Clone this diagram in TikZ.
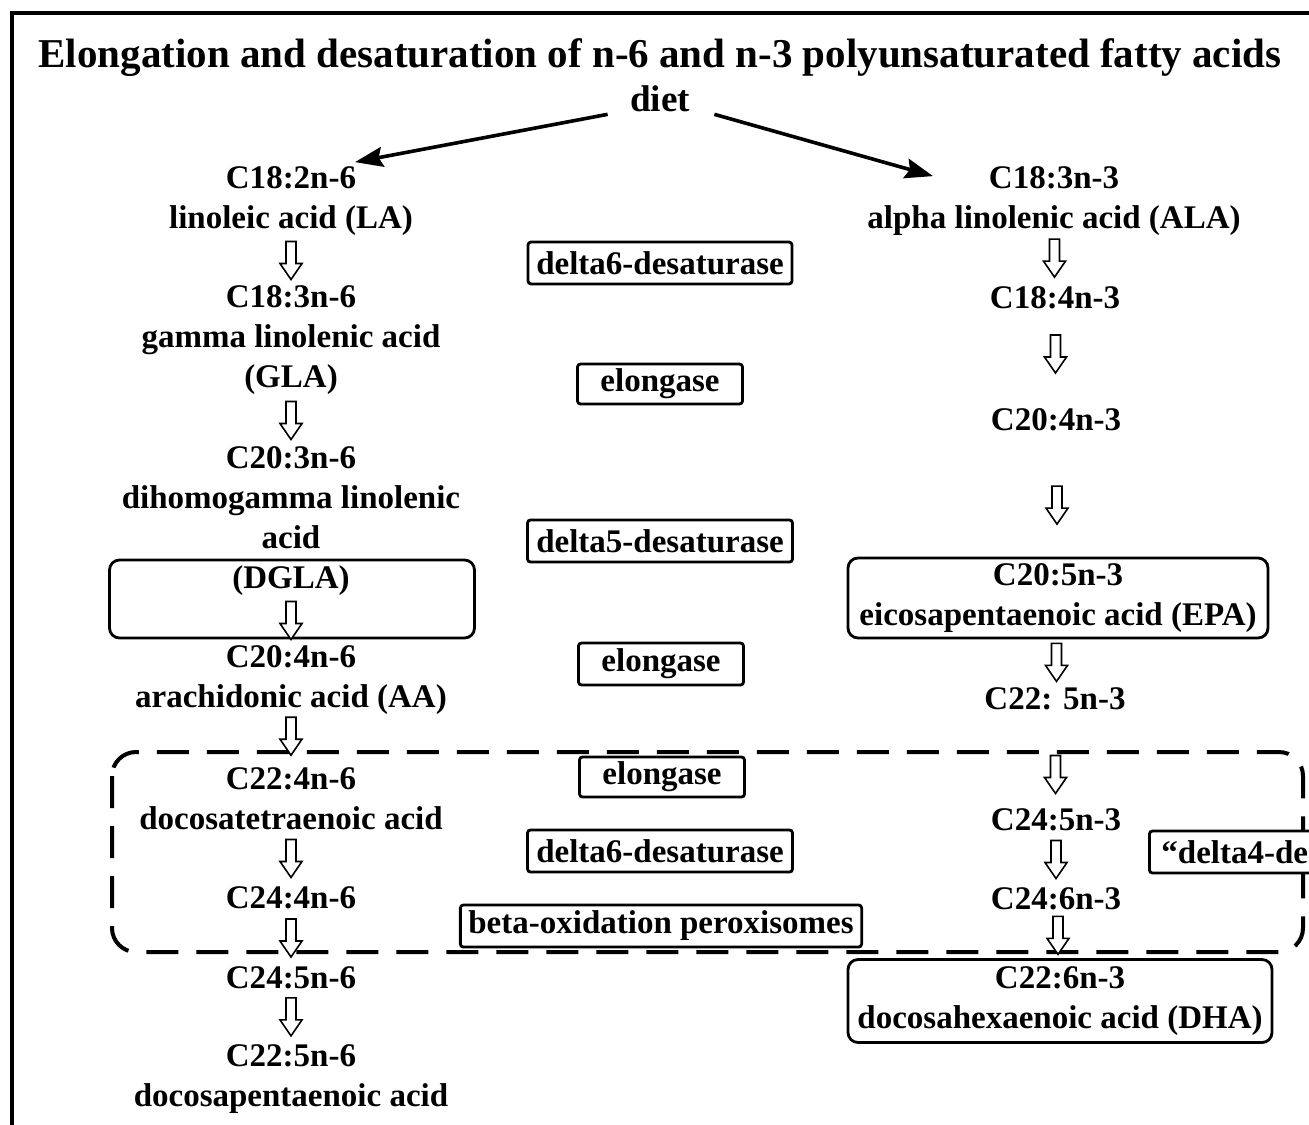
\documentclass[tikz,border=0pt]{standalone}
\usepackage{fontspec}
\setmainfont{Liberation Serif}
\usetikzlibrary{arrows.meta, positioning, calc}

\newcommand{\bodyfont}{\fontsize{16.5}{20}\selectfont\bfseries}
\newcommand{\headfont}{\fontsize{20.5}{24}\selectfont\bfseries}
\newcommand{\dietfont}{\fontsize{18.6}{22}\selectfont\bfseries}

% hollow down arrow, centred between two nodes (optional downward shift)
\newcommand{\flow}[3][0pt]{%
  \draw[hollow] ($(#2.south)!0.5!(#3.north)$) ++(-2.5pt,9.5pt-#1)
    -- ++(0,-11pt) -- ++(-3pt,0) -- ++(5.5pt,-8pt) -- ++(5.5pt,8pt)
    -- ++(-3pt,0) -- ++(0,11pt) -- cycle;}

\begin{document}
\begin{tikzpicture}[
  x=0.5pt, y=-0.5pt,
  acid/.style={font=\bodyfont, align=center, inner sep=1pt},
  enzyme/.style={draw, line width=1.4pt, fill=white, rounded corners=1.5pt,
                 font=\bodyfont, inner xsep=4pt, inner ysep=0pt, minimum height=21pt},
  keybox/.style={draw, line width=1.4pt, rounded corners=5pt, fill=white,
                 font=\bodyfont, align=center, inner sep=1pt},
  hollow/.style={draw, line width=0.8pt, fill=white},
  feed/.style={-{Stealth[length=14pt, width=10pt, inset=2pt]}, line width=1.8pt},
]
  \path[use as bounding box, clip] (0,0) rectangle (1309,1124);

  % frame and title
  \draw[line width=2.4pt] (12,1130) -- (12,13) -- (1315,13);
  \node[font=\headfont, inner sep=0pt] (title) at (660,58)
    {Elongation and desaturation of n-6 and n-3 polyunsaturated fatty acids};
  \node[font=\dietfont, inner sep=1pt, below=3pt of title] (diet) {diet};

  % peroxisomal part
  \draw[line width=2pt, dash pattern=on 16pt off 9pt, rounded corners=12pt]
    (112,752) rectangle (1303,952);

  % n-6 series
  \node[acid] (la)   at (291,201)  {C18:2n-6\\linoleic acid (LA)};
  \node[acid] (gla)  at (291,340)  {C18:3n-6\\gamma linolenic acid\\(GLA)};
  \node[keybox, minimum width=182.5pt, minimum height=39pt] (dglabox) at (292,599) {};
  \node[acid] (dgla) at (291,521)  {C20:3n-6\\dihomogamma linolenic\\acid\\(DGLA)};
  \node[acid] (aa)   at (291,680)  {C20:4n-6\\arachidonic acid (AA)};
  \node[acid] (c224) at (291,799)  {C22:4n-6\\docosatetraenoic acid};
  \node[acid] (c244) at (291,898)  {C24:4n-6};
  \node[acid] (c245) at (291,978)  {C24:5n-6};
  \node[acid] (dpa)  at (291,1079) {C22:5n-6\\docosapentaenoic acid};

  % n-3 series
  \node[acid] (ala)  at (1054,201) {C18:3n-3\\alpha linolenic acid (ALA)};
  \node[acid] (c184) at (1055,298) {C18:4n-3};
  \node[acid] (c204) at (1056,420) {C20:4n-3};
  \node[keybox, minimum width=210pt, minimum height=40pt] (epa) at (1058,598)
    {C20:5n-3\\eicosapentaenoic acid (EPA)};
  \node[acid] (c225) at (1055,699) {C22: 5n-3};
  \node[acid] (c245r) at (1056,820) {C24:5n-3};
  \node[acid] (c246) at (1056,899) {C24:6n-3};
  \node[keybox, minimum width=212pt, minimum height=41.5pt] (dha) at (1060,1001)
    {C22:6n-3\\docosahexaenoic acid (DHA)};

  % enzymes
  \node[enzyme, minimum width=132pt] (d6a) at (660,263) {delta6-desaturase};
  \node[enzyme, minimum width=82.5pt, minimum height=20pt] (el1) at (660,384) {elongase};
  \node[enzyme, minimum width=132.5pt] (d5) at (660,541) {delta5-desaturase};
  \node[enzyme, minimum width=82.5pt] (el2) at (661,664) {elongase};
  \node[enzyme, minimum width=82.5pt, minimum height=20pt] (el3) at (662,777) {elongase};
  \node[enzyme, minimum width=132.5pt] (d6b) at (660,851) {delta6-desaturase};
  \node[enzyme, minimum width=199pt] (beta) at (661,926) {beta-oxidation peroxisomes};
  \node[enzyme, anchor=west, inner xsep=6pt] (d4) at (1148,852) {“delta4-desaturase”};

  % diet arrows
  \draw[feed] ([xshift=-10pt]diet.south west) -- ([xshift=32pt,yshift=1pt]la.north);
  \draw[feed] ([xshift=11pt]diet.south east) -- ([xshift=34pt,yshift=-6pt]ala.north west);

  % conversions
  \flow{la}{gla}
  \flow{gla}{dgla}
  \flow{dgla}{aa}
  \flow[-2.5pt]{aa}{c224}
  \flow{c224}{c244}
  \flow{c244}{c245}
  \flow{c245}{dpa}
  \flow[-1.5pt]{ala}{c184}
  \flow[-2.5pt]{c184}{c204}
  \flow[5pt]{c204}{epa}
  \flow{epa}{c225}
  \flow[7.5pt]{c225}{c245r}
  \flow{c245r}{c246}
  \flow{c246}{dha}
\end{tikzpicture}
\end{document}
